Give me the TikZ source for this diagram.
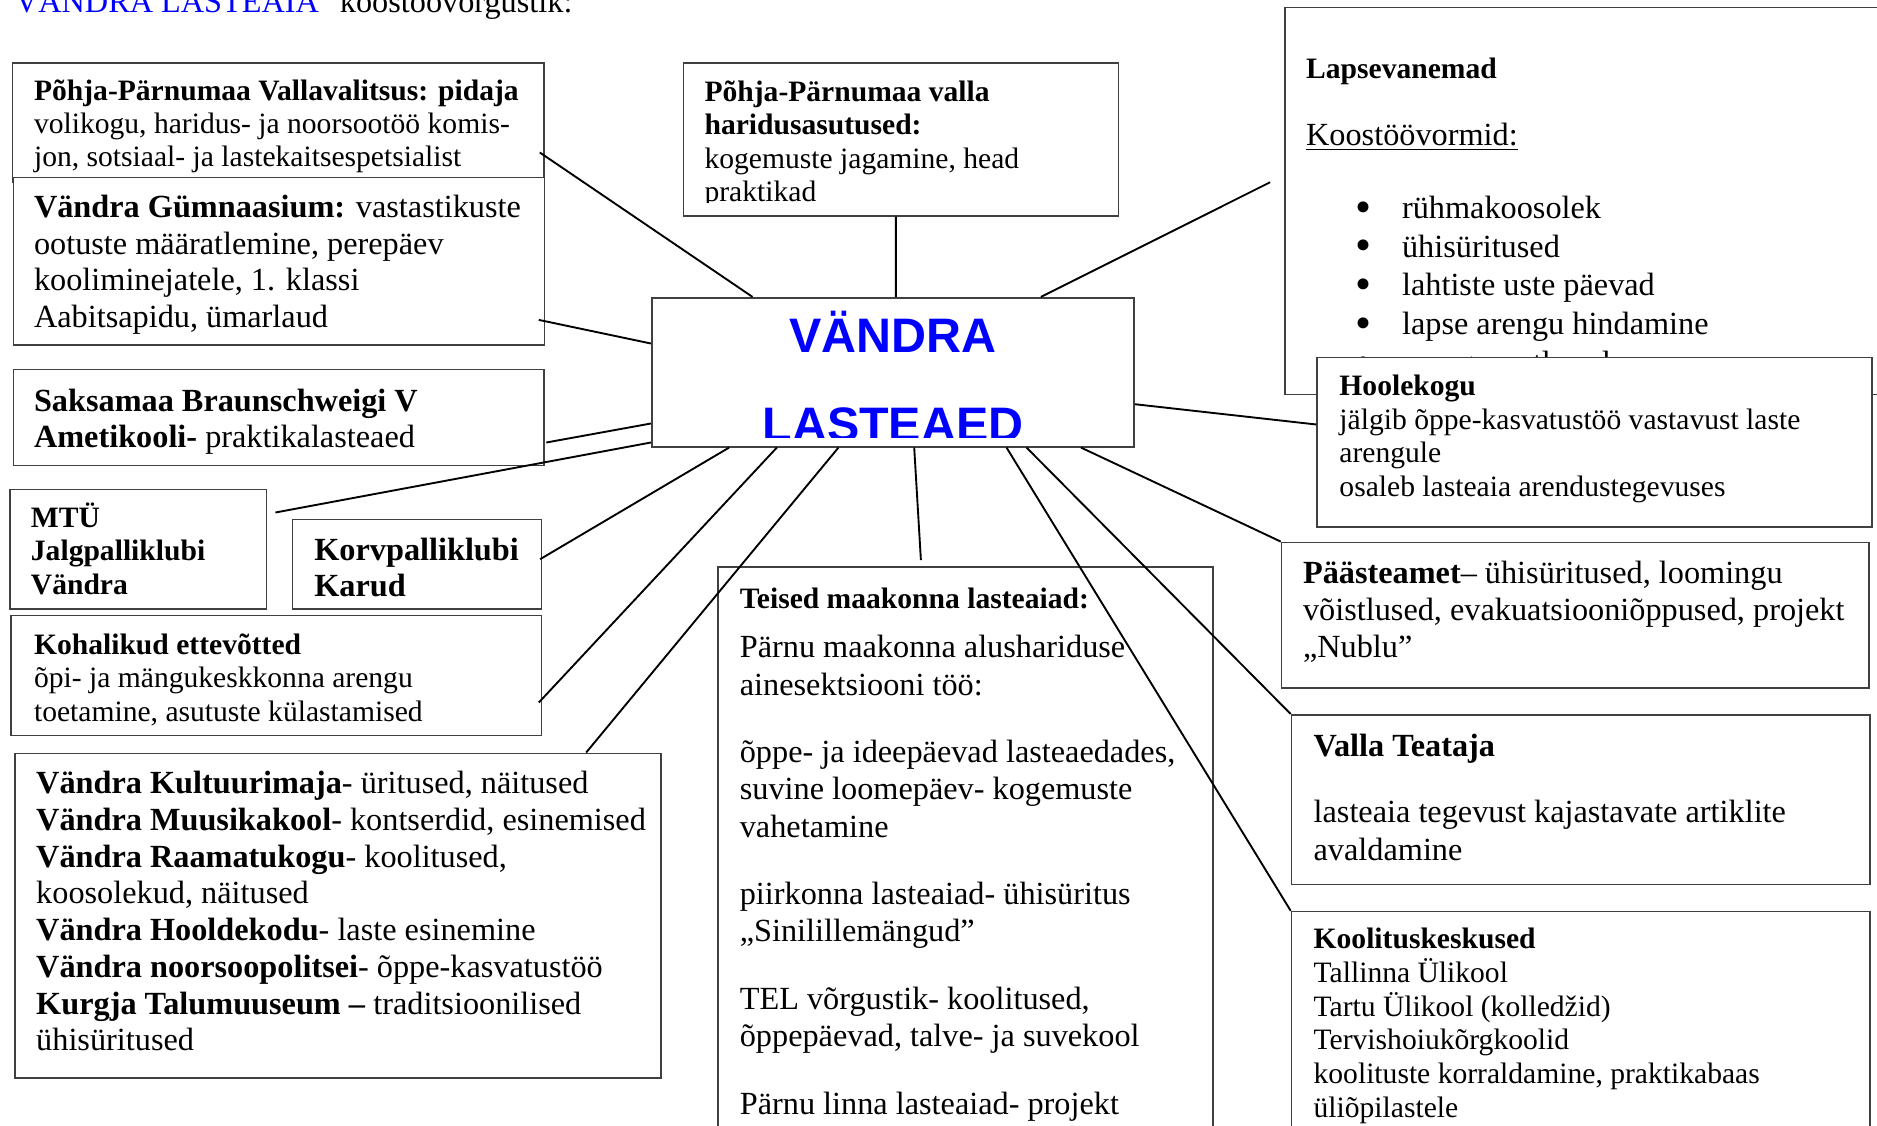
\documentclass[tikz,border=0pt]{standalone}
\usepackage{fontspec}
\setmainfont{Liberation Serif}
\newfontfamily\sansbold{Liberation Sans}
\usepackage{xcolor}
\usetikzlibrary{calc,fit}
\definecolor{boxline}{RGB}{64,64,64}
\newcommand\tapp{\makebox[17.3pt][l]{\fontsize{17}{17}\selectfont\raisebox{-1.4pt}{\textbullet}}}
\tikzset{
  box/.style={draw=boxline, line width=0.6pt, fill=white, inner sep=0pt},
  txt/.style={anchor=base west, inner sep=0pt, align=left},
  suur/.style={font=\fontsize{12}{13.65}\selectfont},
  vaike/.style={font=\fontsize{11}{12.5}\selectfont},
  joon/.style={line width=0.7pt},
}

\begin{document}
\begin{tikzpicture}[x=0.3718pt, y=-0.3718pt]
\useasboundingbox (0,0) rectangle (1877,1125);
\clip (0,0) rectangle (1877,1125);

\node[txt, suur] (pealkiri) at (14.5,12.7) {\textcolor{blue}{VÄNDRA LASTEAIA}\hspace{7.8pt}koostöövõrgustik:};

% vasak pool ylal (alus = viimase rea joon)
\node[box, fit={(12.5,62.7) (543.8,182)}] (vald) {};
\node[txt, font=\fontsize{11}{12.2}\selectfont] (vald-t) at (33.5,166.5) {\textbf{Põhja-Pärnumaa Vallavalitsus: pidaja}\\ volikogu, haridus- ja noorsootöö komis-\\ jon, sotsiaal- ja lastekaitsespetsialist};
\node[box, fit={(13.4,177.3) (544.6,345)}] (gymn) {};
\node[txt, suur] (gymn-t) at (33.5,327.5) {\textbf{Vändra Gümnaasium:} vastastikuste\\ ootuste määratlemine, perepäev\\ kooliminejatele, 1. klassi\\ Aabitsapidu, ümarlaud};

\node[box, fit={(683.3,62.7) (1118.4,215.7)}] (haridus) {};
\begin{scope}
\clip (haridus.north west) rectangle ($(haridus.south east)+(0,-14)$);
\node[txt, font=\fontsize{11}{12.4}\selectfont] (haridus-t) at (704,201.5) {\textbf{Põhja-Pärnumaa valla}\\ \textbf{haridusasutused:}\\ kogemuste jagamine, head\\ praktikad};
\end{scope}

% lapsevanemad ja hoolekogu
\node[box, fit={(1284.7,7.6) (1895,394.3)}] (vanemad) {};
\node[txt, font=\fontsize{11}{12.5}\selectfont\bfseries] (vanemad-p) at (1305.6,78.5) {Lapsevanemad};
\node[txt, suur] (vanemad-k) at (1305.6,145.6) {\underline{Koostöövormid:}};
\node[txt, font=\fontsize{12}{14.43}\selectfont] (vanemad-t) at (1355,373.5) {\tapp rühmakoosolek\\ \tapp ühisüritused\\ \tapp lahtiste uste päevad\\ \tapp lapse arengu hindamine\\ \tapp arenguvestlused};
\node[box, fit={(1317.2,357.4) (1872,526.9)}] (hoole) {};
\node[txt, vaike] (hoole-t) at (1338.9,496.5) {\textbf{Hoolekogu}\\ jälgib õppe-kasvatustöö vastavust laste\\ arengule\\ osaleb lasteaia arendustegevuses};

% keskel
\node[box, fit={(651.7,297.7) (1134,446.7)}] (keskus) {};
\begin{scope}
\clip (keskus.north west) rectangle ($(keskus.south east)+(0,-9.7)$);
\node[anchor=base, inner sep=0pt, align=center, text=blue, font=\sansbold\fontsize{18}{32.8}\selectfont\bfseries] (keskus-t) at (893,441) {VÄNDRA\\LASTEAED};
\end{scope}

% vasak pool all
\node[box, fit={(13.4,369.3) (543.8,465.3)}] (saksa) {};
\node[txt, font=\fontsize{12}{13.4}\selectfont] (saksa-t) at (33.5,447.5) {\textbf{Saksamaa Braunschweigi V}\\ \textbf{Ametikooli-} praktikalasteaed};
\node[box, fit={(9.8,489.3) (266.5,608.7)}] (mtu) {};
\node[txt, font=\fontsize{11}{12.5}\selectfont\bfseries] (mtu-t) at (30.4,594.5) {MTÜ\\ Jalgpalliklubi\\ Vändra};
\node[box, fit={(292.4,519.3) (541.5,608.7)}] (korv) {};
\node[txt, font=\fontsize{12}{13.3}\selectfont\bfseries] (korv-t) at (313.8,596.5) {Korvpalliklubi\\ Karud};
\node[box, fit={(11.2,615.3) (541.5,735.3)}] (ettev) {};
\node[txt, font=\fontsize{11}{12.4}\selectfont] (ettev-t) at (33.5,721) {\textbf{Kohalikud ettevõtted}\\ õpi- ja mängukeskkonna arengu\\ toetamine, asutuste külastamised};
\node[box, fit={(14.7,753.3) (660.7,1077.7)}] (kultuur) {};
\node[txt, suur] (kultuur-t) at (35.7,1050.8) {\textbf{Vändra Kultuurimaja}- üritused, näitused\\ \textbf{Vändra Muusikakool}- kontserdid, esinemised\\ \textbf{Vändra Raamatukogu}- koolitused,\\ koosolekud, näitused\\ \textbf{Vändra Hooldekodu}- laste esinemine\\ \textbf{Vändra noorsoopolitsei}- õppe-kasvatustöö\\ \textbf{Kurgja Talumuuseum –} traditsioonilised\\ ühisüritused};

% all keskel
\node[box, fit={(717.9,566.9) (1213.2,1140)}] (teised) {};
\node[txt, font=\fontsize{12}{13.87}\selectfont] (teised-t) at (739.3,1114) {{\fontsize{11}{12}\selectfont\bfseries Teised maakonna lasteaiad:}\\[4.4pt] Pärnu maakonna alushariduse\\ ainesektsiooni töö:\\[11.2pt] õppe- ja ideepäevad lasteaedades,\\ suvine loomepäev- kogemuste\\ vahetamine\\[11.2pt] piirkonna lasteaiad- ühisüritus\\ „Sinilillemängud”\\[11.2pt] TEL võrgustik- koolitused,\\ õppepäevad, talve- ja suvekool\\[11.2pt] Pärnu linna lasteaiad- projekt};

% parem pool
\node[box, fit={(1281.6,542.4) (1869.2,687.8)}] (paaste) {};
\node[txt, suur] (paaste-t) at (1302.5,657) {\textbf{Päästeamet}– ühisüritused, loomingu\\ võistlused, evakuatsiooniõppused, projekt\\ „Nublu”};
\node[box, fit={(1291.5,714.8) (1870,884.6)}] (teataja) {};
\node[txt, font=\fontsize{12}{14.3}\selectfont] (teataja-t) at (1313.1,860.5) {\textbf{Valla Teataja}\\[10.1pt] lasteaia tegevust kajastavate artiklite\\ avaldamine};
\node[box, fit={(1291.5,911.6) (1870,1140)}] (koolitus) {};
\node[txt, vaike] (koolitus-t) at (1313.1,1117) {\textbf{Koolituskeskused}\\ Tallinna Ülikool\\ Tartu Ülikool (kolledžid)\\ Tervishoiukõrgkoolid\\ koolituste korraldamine, praktikabaas\\ üliõpilastele};

% jooned
\draw[joon] ($(vald.north east)+(-4.8,90.6)$) -- ($(keskus.north west)+(101.6,0)$);
\draw[joon] ($(gymn.north east)+(-6.6,143.4)$) -- ($(keskus.north west)+(0,46.6)$);
\draw[joon] ($(haridus.south west)+(213.4,0)$) -- ($(keskus.north west)+(245,0)$);
\coordinate (vanemad-ots) at ($(vanemad.north west)+(-13.7,175.4)$);
\draw[joon] ($(keskus.north west)+(390,0)$) -- (vanemad-ots);
\draw[joon] ($(keskus.north east)+(0,107.3)$) -- ($(hoole.north west)+(0,67.9)$);
\draw[joon] ($(saksa.north east)+(1.7,74)$) -- ($(keskus.north west)+(0,126.6)$);
\draw[joon] ($(mtu.north east)+(8.1,24)$) -- ($(keskus.north west)+(0,145.6)$);
\draw[joon] ($(korv.north east)+(-2.2,40.7)$) -- ($(keskus.south west)+(78.3,0)$);
\draw[joon] ($(ettev.north east)+(-3.5,88)$) -- ($(keskus.south west)+(126,0)$);
\draw[joon] ($(kultuur.north west)+(572.3,0)$) -- ($(keskus.south west)+(187.6,0)$);
\draw[joon] ($(teised.north west)+(203.8,-6)$) -- ($(keskus.south west)+(263.3,0)$);
\draw[joon] (koolitus.north west) -- ($(keskus.south west)+(355.6,0)$);
\draw[joon] (teataja.north west) -- ($(keskus.south west)+(375.6,0)$);
\draw[joon] (paaste.north west) -- ($(keskus.south west)+(430,0)$);
\end{tikzpicture}
\end{document}
